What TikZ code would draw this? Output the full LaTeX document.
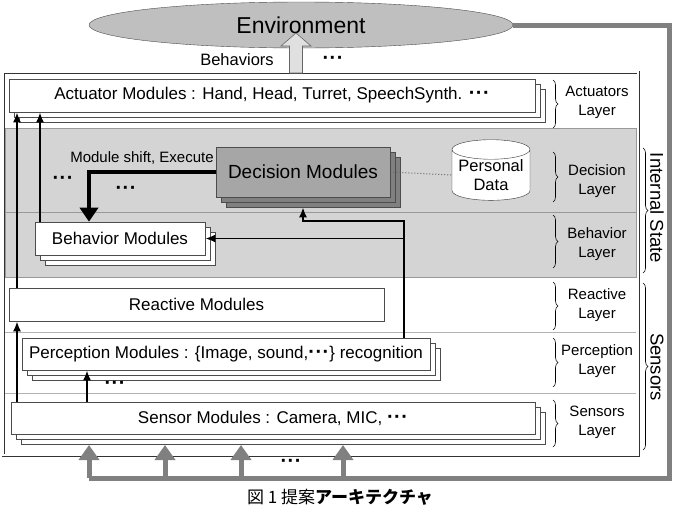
\documentclass[tikz,border=0pt]{standalone}
\usepackage{fontspec}
\setmainfont{Liberation Sans}
\newfontfamily\cjk{Noto Sans CJK JP}
\usetikzlibrary{arrows.meta, shapes.geometric, shadows, decorations.pathreplacing}

\newcommand{\mdots}{{\fontsize{20}{20}\selectfont\bfseries ·\kern0.5pt·\kern0.5pt·}}

\begin{document}
\begin{tikzpicture}[x=1pt, y=-1pt,
   modbox/.style={draw=black!70, fill=white, line width=0.6pt, minimum height=33, inner sep=1pt, font=\fontsize{17}{19}\selectfont},
   stackbox/.style={modbox, double copy shadow={shadow xshift=5pt, shadow yshift=-5pt}},
   decbox/.style={modbox, fill=black!35, double copy shadow={shadow xshift=5pt, shadow yshift=-5pt, fill=black!50}},
   layerbrace/.style={decorate, decoration={brace, amplitude=5pt}, line width=0.6pt},
   layerlabel/.style={align=center, font=\fontsize{15}{19}\selectfont},
   sidelabel/.style={rotate=-90, inner sep=0pt, font=\fontsize{18.5}{20}\selectfont},
   plain/.style={font=\fontsize{16.5}{18}\selectfont},
   thinarrow/.style={line width=1.9pt, -{Latex[length=10pt, width=8pt]}},
   grayarrow/.style={line width=5pt, draw=black!50, -{Triangle[length=15pt, width=20pt]}}]
   \useasboundingbox (0,0) rectangle (676,517);
   \fill [white] (0,0) rectangle (676,517);
   \draw [draw=black!40, fill=black!17] (5,128) rectangle (636,277);
   \draw [black!40] (5,212) -- (636,212);
   \draw [black!30] (5,332) -- (636,332);
   \draw [black!30] (5,393) -- (636,393);
   \node(frame) at (320.5,263.5) [draw=black!80, double, double distance=1.6pt, line width=0.7pt, minimum width=635, minimum height=383] {};

   \node(env) at (301,25) [ellipse, draw=black!70, fill=black!25, minimum width=424, minimum height=46, font=\fontsize{23}{25}\selectfont] {Environment};
   \node(act) at (272,95.5) [stackbox, minimum width=526] {Actuator Modules : Hand, Head, Turret, SpeechSynth. \mdots};
   \node(dec) at (303,172) [decbox, minimum width=174, minimum height=50, font=\fontsize{19}{21}\selectfont] {Decision Modules};
   \node(pd) at (491,175) [cylinder, shape border rotate=90, draw=black!80, fill=white, aspect=0.3, inner sep=0pt, minimum width=78, minimum height=51, align=center, font=\fontsize{16.5}{19}\selectfont] {Personal\\Data};
   \node(beh) at (120,238.5) [stackbox, minimum width=170] {Behavior Modules};
   \node(react) at (196.5,304.5) [modbox, minimum width=375] {Reactive Modules};
   \node(perc) at (226,354) [stackbox, minimum width=408, minimum height=32] {Perception Modules : \{Image, sound,\mdots\} recognition};
   \node(sens) at (273,418) [stackbox, minimum width=524, minimum height=32] {Sensor Modules : Camera, MIC, \mdots};

   \node(behtxt) at (237,60) [plain] {Behaviors};
   \node(behdots) at (333,60) [plain] {\mdots};
   \node(shift) at (142,158) [layerlabel] {Module shift, Execute};
   \node(dots1) at (63,180) [plain] {\mdots};
   \node(dots2) at (126,190) [plain] {\mdots};
   \node(dots3) at (115,385) [plain] {\mdots};
   \node(dots4) at (291,463) [plain] {\mdots};

   \node(lact) at (597,102) [layerlabel] {Actuators\\Layer};
   \node(ldec) at (597,181) [layerlabel] {Decision\\Layer};
   \node(lbeh) at (597,244) [layerlabel] {Behavior\\Layer};
   \node(lreact) at (597,305) [layerlabel] {Reactive\\Layer};
   \node(lperc) at (597,361) [layerlabel] {Perception\\Layer};
   \node(lsens) at (597,422) [layerlabel] {Sensors\\Layer};
   \draw [layerbrace] (553,80) -- (553,128) ;
   \draw [layerbrace] (553,152) -- (553,202) ;
   \draw [layerbrace] (553,215) -- (553,268) ;
   \draw [layerbrace] (553,282) -- (553,330) ;
   \draw [layerbrace] (553,338) -- (553,387) ;
   \draw [layerbrace] (553,400) -- (553,447) ;

   \node(istate) at (657,208) [sidelabel] {Internal State};
   \node(sensors) at (657,367) [sidelabel] {Sensors};
   \draw [layerbrace] (643,148) -- (643,273) ;
   \draw [layerbrace] (643,283) -- (643,450) ;

   \draw [black!60, fill=black!12, line width=0.6pt] (289.5,73) -- (289.5,46) -- (281,46) -- (296,33) -- (311,46) -- (302.5,46) -- (302.5,73) -- cycle;

   \coordinate(xa) at (17,0);
   \coordinate(xb) at (40,0);
   \coordinate(xc) at (87,0);
   \coordinate(xt) at (89,0);
   \coordinate(jn) at (404,221);
   \draw [thinarrow] (react.north -| xa) -- (act.south -| xa) ;
   \draw [thinarrow] (beh.north -| xb) -- (act.south -| xb) ;
   \draw [thinarrow] (sens.north -| xa) -- (react.south -| xa) ;
   \draw [thinarrow] (sens.north -| xc) -- (perc.south -| xc) ;
   \draw [thinarrow] (perc.north -| jn) -- (jn) -| ([yshift=-10pt]dec.south) ;
   \draw [thinarrow] (beh.east -| jn) -- (beh.east) ;
   \draw [line width=3.5pt, -{Triangle[length=14pt, width=18pt]}] (dec.west) -| (beh.north -| xt) ;
   \draw [dotted, black!60, line width=1pt] (dec.east) -- (pd.west) ;

   \coordinate(cr) at (669,478);
   \coordinate(g1) at (89,478);
   \coordinate(g2) at (165,478);
   \coordinate(g3) at (241,478);
   \coordinate(g4) at (343,478);
   \coordinate(gt) at (0,445);
   \draw [line width=5pt, black!50] (env.east) -| (cr) -- (g1) ;
   \draw [grayarrow] (g1) -- (g1 |- gt) ;
   \draw [grayarrow] (g2) -- (g2 |- gt) ;
   \draw [grayarrow] (g3) -- (g3 |- gt) ;
   \draw [grayarrow] (g4) -- (g4 |- gt) ;

   \node(cap) at (340,497) [font=\cjk\fontsize{17}{19}\selectfont] {図 1 提案{\bfseries アーキテクチャ}};
\end{tikzpicture}
\end{document}
